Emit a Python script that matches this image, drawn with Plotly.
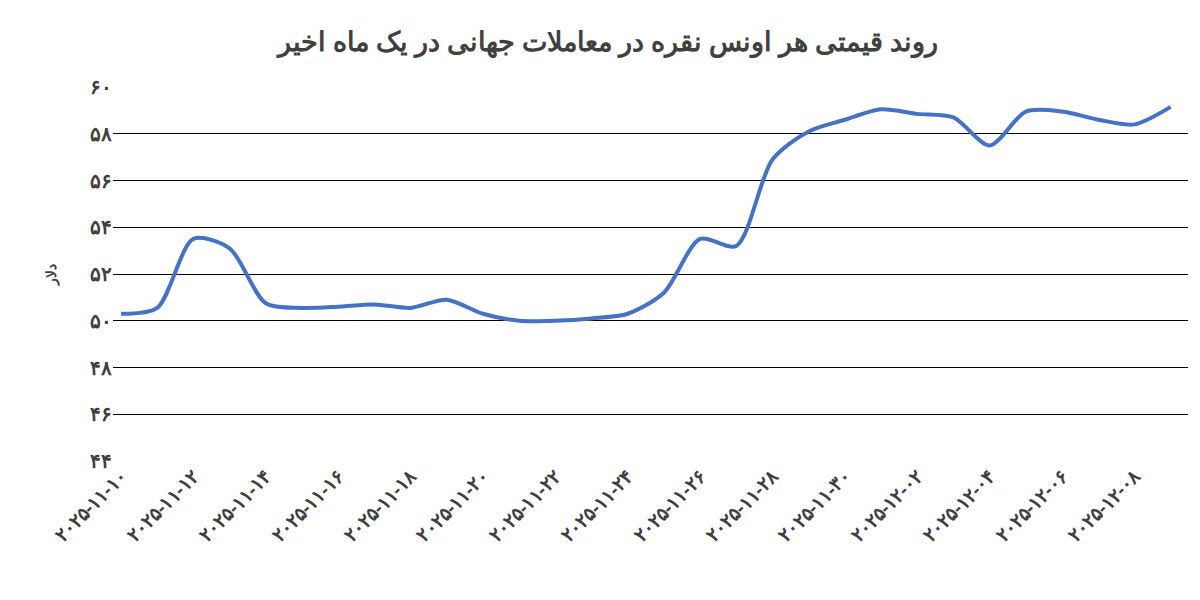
import plotly.graph_objects as go
import datetime as dt

def fa(s):
    return s.translate(str.maketrans("0123456789", "۰۱۲۳۴۵۶۷۸۹"))

start = dt.date(2025, 11, 10)
dates = [(start + dt.timedelta(days=i)).isoformat() for i in range(30)]
prices = [50.3, 50.55, 53.5, 53.1, 50.75, 50.55, 50.6, 50.7, 50.55, 50.9,
          50.3, 50.0, 50.0, 50.1, 50.3, 51.2, 53.5, 53.2, 56.9, 58.1,
          58.6, 59.05, 58.85, 58.7, 57.5, 58.95, 58.95, 58.6, 58.4, 59.15]
labels = [fa(d) for d in dates]
yticks = list(range(44, 61, 2))

fig = go.Figure(go.Scatter(x=list(range(30)), y=prices, mode="lines",
                           line=dict(color="#4472C4", width=4, shape="spline", smoothing=0.8)))
fig.update_layout(
    width=1200, height=600, paper_bgcolor="white", plot_bgcolor="white",
    margin=dict(l=105, r=20, t=79, b=147),
    title=dict(text="<b>روند قیمتی هر اونس نقره در معاملات جهانی در یک ماه اخیر</b>",
               x=0.5, y=0.96, yanchor="top", xanchor="center",
               font=dict(size=27, color="#404040", family="Noto Sans")),
    showlegend=False,
    font=dict(family="Noto Sans", color="#404040"),
)
fig.update_xaxes(tickvals=list(range(0, 30, 2)), ticktext=["<b>%s</b>" % l for l in labels[0::2]], tickangle=-45,
                 range=[-0.22, 29.48], showgrid=False, zeroline=False,
                 tickfont=dict(size=19, color="#404040"))
fig.update_yaxes(range=[44, 60], tickvals=yticks, ticktext=["<b>%s</b>" % fa(str(v)) for v in yticks],
                 showgrid=True, gridcolor="black", gridwidth=1.3, zeroline=False,
                 tickfont=dict(size=20, color="#404040"),
                 title=dict(text="<b>دلار</b>", font=dict(size=14, color="#404040"), standoff=30))
fig.write_html("out.html")
